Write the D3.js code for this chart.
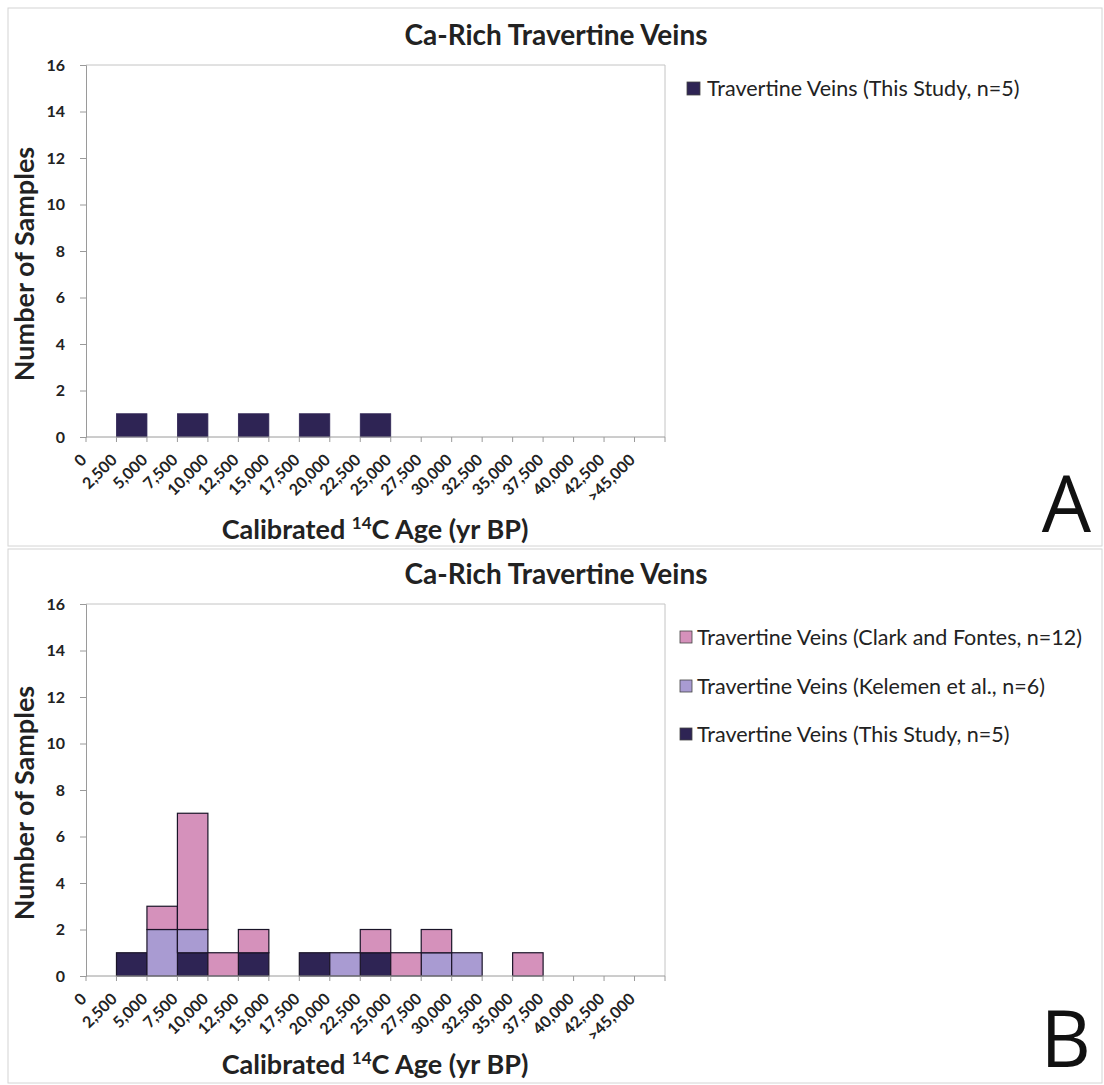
<!DOCTYPE html>
<html>
<head>
<meta charset="utf-8">
<script src="https://cdn.jsdelivr.net/npm/d3@7"></script>
<style>
  body { margin: 0; background: #fff; }
  svg { display: block; font-family: Lato, "Open Sans", sans-serif; }
</style>
</head>
<body>
<svg id="fig" width="1104" height="1085"></svg>
<script>
// Bin labels (left edge of each 2,500-yr age bin)
const binLabels = ["0", "2,500", "5,000", "7,500", "10,000", "12,500", "15,000", "17,500",
  "20,000", "22,500", "25,000", "27,500", "30,000", "32,500", "35,000", "37,500",
  "40,000", "42,500", ">45,000"];

// Sample counts per bin
const thisStudy   = [0, 1, 0, 1, 0, 1, 0, 1, 0, 1, 0, 0, 0, 0, 0, 0, 0, 0, 0];
const kelemen     = [0, 0, 2, 1, 0, 0, 0, 0, 1, 0, 0, 1, 1, 0, 0, 0, 0, 0, 0];
const clarkFontes = [0, 0, 1, 5, 1, 1, 0, 0, 0, 1, 1, 1, 0, 0, 1, 0, 0, 0, 0];

const yTicks = [0, 2, 4, 6, 8, 10, 12, 14, 16];

const seriesNames = {
  thisStudy: "Travertine Veins (This Study, n=5)",
  kelemen: "Travertine Veins (Kelemen et al., n=6)",
  clarkFontes: "Travertine Veins (Clark and Fontes, n=12)"
};
const seriesColors = { thisStudy: "#2e2454", kelemen: "#a99bd2", clarkFontes: "#d591bb" };

const chartTitle = "Ca-Rich Travertine Veins";
const yTitle = "Number of Samples";

const svg = d3.select("#fig");

function drawPanel(cfg) {
  const g = svg.append("g").attr("transform", `translate(0,${cfg.dy})`);

  // panel frame
  g.append("rect").attr("x", 8).attr("y", cfg.frameTop).attr("width", 1094).attr("height", cfg.frameH)
    .attr("fill", "none").attr("stroke", "#d4d4d4").attr("stroke-width", 1);

  const left = 86, right = 665, top = 65, bottom = 437;
  const x = d3.scaleBand().domain(binLabels).range([left, right]).padding(0);
  const y = d3.scaleLinear().domain([0, 16]).range([bottom, top]);

  // plot area border (top/right)
  g.append("path").attr("d", `M${left},${top}H${right}V${bottom}`)
    .attr("fill", "none").attr("stroke", "#c4c4c4").attr("stroke-width", 1);

  // stacked bars
  const keys = cfg.keys;
  const rows = binLabels.map((b, i) => {
    const r = { bin: b };
    keys.forEach(k => { r[k] = cfg.data[k][i]; });
    return r;
  });
  const stacked = d3.stack().keys(keys)(rows);
  stacked.forEach(layer => {
    g.append("g").selectAll("rect")
      .data(layer.filter(d => d[1] - d[0] > 0))
      .join("rect")
      .attr("x", d => x(d.data.bin))
      .attr("y", d => y(d[1]))
      .attr("width", x.bandwidth())
      .attr("height", d => y(d[0]) - y(d[1]))
      .attr("fill", seriesColors[layer.key])
      .attr("stroke", cfg.outline ? "#1a1428" : seriesColors[layer.key])
      .attr("stroke-width", cfg.outline ? 1.2 : 0.8);
  });

  // y axis
  const yAxis = d3.axisLeft(y).tickValues(yTicks).tickSize(6).tickPadding(15);
  const ya = g.append("g").attr("transform", `translate(${left},0)`).call(yAxis);
  ya.select(".domain").attr("stroke", "#9a9a9a");
  ya.selectAll(".tick line").attr("stroke", "#9a9a9a");
  ya.selectAll(".tick text").attr("font-size", 16).attr("font-weight", 700)
    .attr("font-family", "Lato, sans-serif").attr("fill", "#222");

  // x axis: ticks on bin boundaries, labels at bin left edges
  g.append("line").attr("x1", left).attr("x2", right).attr("y1", bottom).attr("y2", bottom)
    .attr("stroke", "#9a9a9a");
  const edges = binLabels.map(b => x(b)).concat([x.range()[1]]);
  g.append("g").selectAll("line").data(edges).join("line")
    .attr("x1", d => d).attr("x2", d => d).attr("y1", bottom).attr("y2", bottom + 5)
    .attr("stroke", "#9a9a9a");
  g.append("g").selectAll("text").data(binLabels).join("text")
    .attr("transform", d => `translate(${x(d) + 1.5},${bottom + 24}) rotate(-45)`)
    .attr("text-anchor", "end")
    .attr("font-size", 16).attr("font-weight", 700).attr("fill", "#222")
    .text(d => d);

  // titles
  g.append("text").attr("x", 556).attr("y", 45).attr("text-anchor", "middle")
    .attr("font-size", 28).attr("font-weight", 700).attr("fill", "#222").text(chartTitle);
  g.append("text").attr("transform", `translate(34,264) rotate(-90)`).attr("text-anchor", "middle")
    .attr("font-size", 27).attr("font-weight", 700).attr("fill", "#222").text(yTitle);
  const xt = g.append("text").attr("x", 375).attr("y", cfg.xTitleY).attr("text-anchor", "middle")
    .attr("font-size", 27).attr("font-weight", 700).attr("fill", "#222");
  xt.append("tspan").text("Calibrated ");
  xt.append("tspan").attr("font-size", 17).attr("dy", -10).text("14");
  xt.append("tspan").attr("dy", 10).text("C Age (yr BP)");

  // legend
  const leg = g.append("g").selectAll("g").data(cfg.legend).join("g")
    .attr("transform", d => `translate(${cfg.legX},${d.y})`);
  leg.append("rect").attr("x", 0).attr("y", -7).attr("width", cfg.sw).attr("height", cfg.sw)
    .attr("fill", d => seriesColors[d.key]).attr("stroke", "#444").attr("stroke-width", 0.8);
  leg.append("text").attr("x", cfg.sw + cfg.gap).attr("y", 7).attr("font-size", 21.5)
    .attr("fill", "#222").text(d => seriesNames[d.key]);

  // panel letter
  g.append("text").attr("x", 1091).attr("y", cfg.letterY).attr("text-anchor", "end")
    .attr("font-size", 78).attr("font-family", "'Open Sans', Lato, sans-serif").attr("fill", "#111")
    .text(cfg.letter);
}

drawPanel({
  dy: 0, frameTop: 8, frameH: 538, keys: ["thisStudy"], data: { thisStudy },
  outline: false, xTitleY: 539, letter: "A", letterY: 532,
  legX: 687, sw: 13, gap: 7, legend: [{ key: "thisStudy", y: 89 }]
});

drawPanel({
  dy: 539, frameTop: 10, frameH: 534, keys: ["thisStudy", "kelemen", "clarkFontes"],
  data: { thisStudy, kelemen, clarkFontes },
  outline: true, xTitleY: 535, letter: "B", letterY: 528,
  legX: 680, sw: 12, gap: 5,
  legend: [{ key: "clarkFontes", y: 99 }, { key: "kelemen", y: 148 }, { key: "thisStudy", y: 196 }]
});
</script>
</body>
</html>
